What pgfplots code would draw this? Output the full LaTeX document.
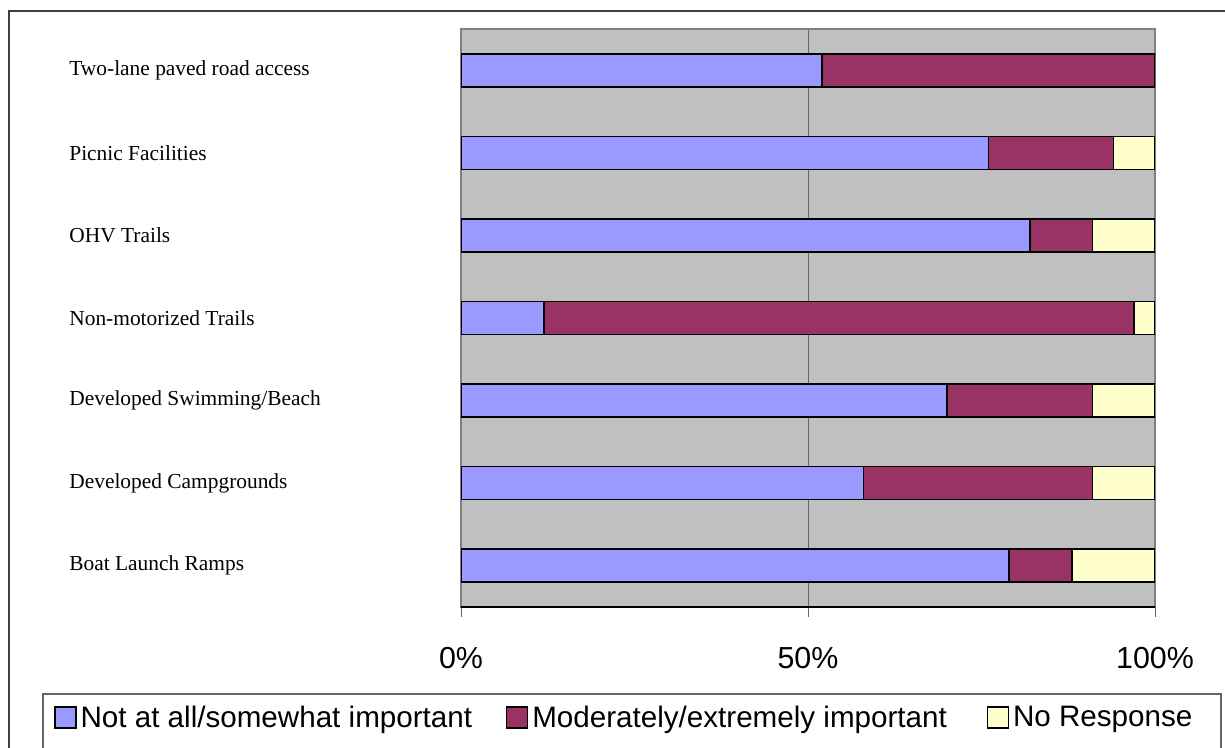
\documentclass[border=0pt]{standalone}
\usepackage{pgfplots}
\pgfplotsset{compat=1.18}
\usepackage{fontspec}
\setmainfont{Liberation Serif}
\newfontfamily\arial{Liberation Sans}
\definecolor{cblue}{HTML}{9999FF}
\definecolor{cred}{HTML}{993366}
\definecolor{ccream}{HTML}{FFFFCC}
\definecolor{plotgray}{HTML}{C0C0C0}
\definecolor{bordgray}{HTML}{808080}
\begin{document}
\begin{tikzpicture}
\useasboundingbox (0,0) rectangle (612.5pt,374pt);
% outer frame
\draw[color=black!75, line width=1pt] (4.5pt,-5pt) -- (4.5pt,368.5pt) -- (620pt,368.5pt);
% legend frame
\draw[color=black!60, line width=0.6pt] (21.5pt,-5pt) -- (21.5pt,27pt) -- (610.5pt,27pt) -- (610.5pt,-5pt);
\begin{axis}[
  at={(230.5pt,70.5pt)}, anchor=south west,
  width=347pt, height=289pt, scale only axis,
  xbar stacked, bar width=16.5pt,
  xmin=0, xmax=100, ymin=-0.5, ymax=6.5,
  axis background/.style={fill=plotgray},
  axis line style={draw=bordgray, line width=0.8pt},
  xtick={0,50,100},
  xticklabels={0\%,50\%,100\%},
  xmajorgrids, grid style={draw=black!60, line width=0.5pt},
  tick align=outside, xtick pos=lower,
  major tick length=5pt,
  xtick style={draw=black!60, line width=0.5pt},
  xticklabel style={font=\arial\fontsize{15.2}{17}\selectfont, anchor=center, yshift=-20.5pt},
  ytick={0,1,2,3,4,5,6},
  yticklabels={Boat Launch Ramps, Developed Campgrounds, Developed Swimming/Beach, Non-motorized Trails, OHV Trails, Picnic Facilities, Two-lane paved road access},
  ytick style={draw=none},
  yticklabel style={font=\fontsize{10.7}{12}\selectfont, anchor=west, inner sep=0pt, xshift=-191pt},
  legend columns=3,
  legend style={draw=none, fill=none, at={(-0.5865,-0.192)}, anchor=west,
    font=\arial\fontsize{14.8}{17}\selectfont, inner sep=0pt,
    /tikz/column 2/.style={column sep=15pt},
    /tikz/column 4/.style={column sep=18pt}},
  legend image code/.code={\draw[#1, draw=black, line width=0.6pt] (0pt,-5pt) rectangle (10.5pt,5.5pt);},
  after end axis/.code={\draw[black, line width=0.8pt] (rel axis cs:0,0) -- (rel axis cs:1,0);},
]
\addplot[fill=cblue, draw=black, line width=0.8pt] coordinates {(79,0) (58,1) (70,2) (12,3) (82,4) (76,5) (52,6)};
\addplot[fill=cred, draw=black, line width=0.8pt] coordinates {(9,0) (33,1) (21,2) (85,3) (9,4) (18,5) (48,6)};
\addplot[fill=ccream, draw=black, line width=0.8pt] coordinates {(12,0) (9,1) (9,2) (3,3) (9,4) (6,5) (0,6)};
\legend{Not at all/somewhat important, Moderately/extremely important, No Response}
\end{axis}
\end{tikzpicture}
\end{document}
